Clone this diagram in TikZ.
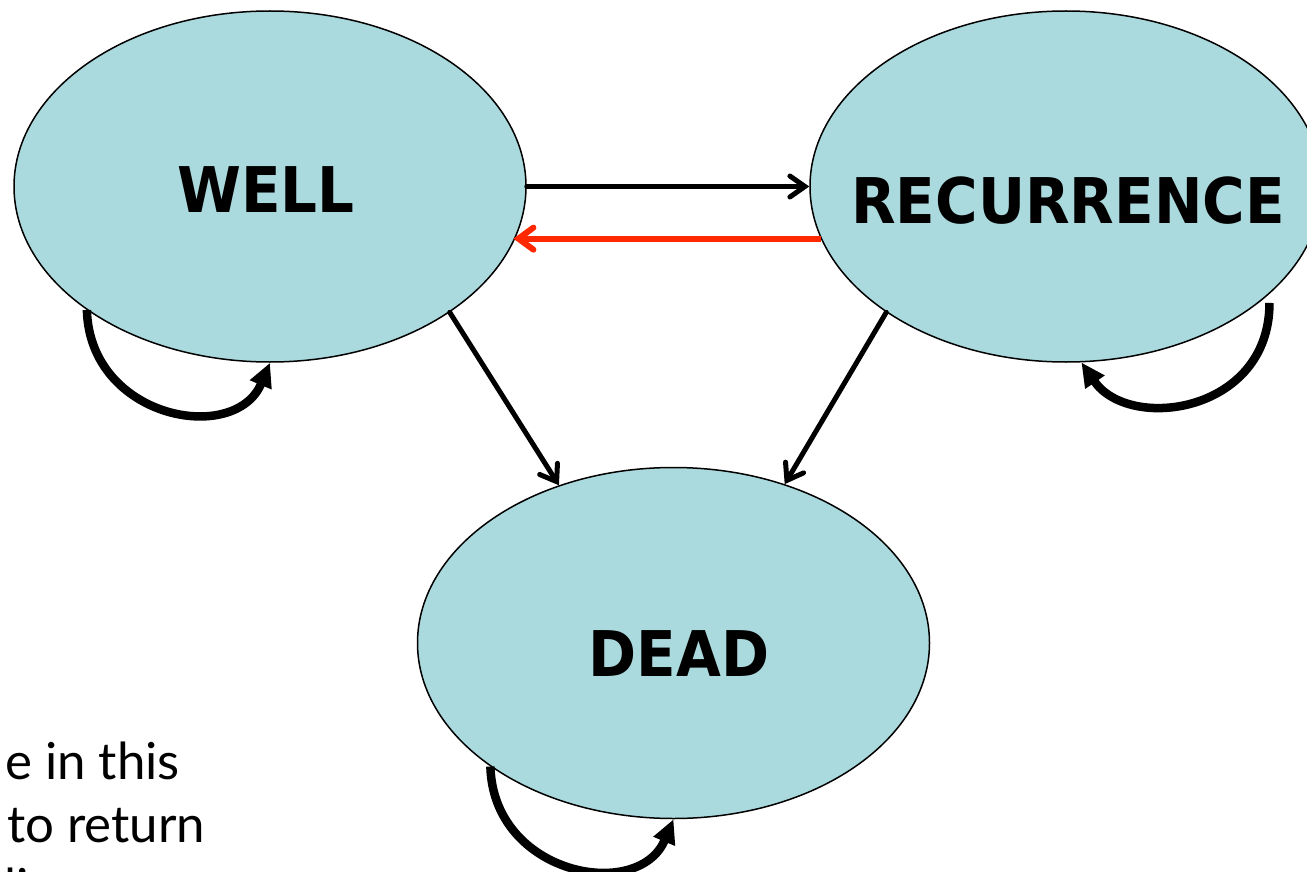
\documentclass[tikz,border=0pt]{standalone}
\usepackage{fontspec}
\usetikzlibrary{arrows.meta,shapes.geometric,calc}
\newfontfamily\lblfont[FakeStretch=0.92]{DejaVu Sans}
\newfontfamily\bodyfont{Lato}
\definecolor{fillblue}{RGB}{171,218,222}
\definecolor{backred}{RGB}{255,40,0}
\begin{document}
\begin{tikzpicture}[x=1pt,y=-1pt,
  state/.style={ellipse, draw=black, line width=1.5pt, fill=fillblue,
    minimum width=512pt, minimum height=351pt, inner sep=0pt},
  lbl/.style={font=\lblfont\bfseries\fontsize{63}{70}\selectfont, anchor=base, inner sep=0pt},
  body/.style={font=\bodyfont\fontsize{51}{63}\selectfont, anchor=base west, inner sep=0pt},
  flow/.style={line width=5pt, line cap=round,
    -{Straight Barb[length=15pt,width=21pt,line cap=round]}},
  backflow/.style={draw=backred, line width=6pt,
    -{Straight Barb[length=15pt,width=22pt,line cap=round]}},
  selfloop/.style={line width=8.5pt, -{Triangle[length=24pt,width=22pt]}}
]
\useasboundingbox (0,0) rectangle (1307,872);

\node[state] (well) at (270,186.5) {};
\node[state] (rec) at (1066,186.5) {};
\node[state] (dead) at (673.5,643) {};

\node[lbl] (wellt) at (266,212) {WELL};
\node[lbl] (rect) at (1068,223) {RECURRENCE};
\node[lbl] (deadt) at (679,676) {DEAD};

\coordinate (recloop) at ($(rec.330)+(7,3)$);

\draw[flow] (well.east) -- (rec.west);
\draw[backflow] (rec.192.4) -- (well.347.6 |- rec.192.4);
\draw[flow] (well.325.4) -- (dead.126.1);
\draw[flow] (rec.215.1) -- (dead.55.8);

\draw[selfloop] (well.214.5) .. controls +(3,109) and +(-35,83) .. (well.south);
\draw[selfloop] (dead.214.5) .. controls +(3,109) and +(-35,83) .. (dead.south);
\draw[selfloop] (recloop) .. controls +(0,110) and +(48,70) .. (rec.275);

\begin{scope}
\clip (0,0) rectangle (1307,872);
\node[body] (t1) at (5,779) {e in this};
\node[body] (t2) at (7,842) {to return};
\node[body] (t3) at (4,905) {li};
\end{scope}
\end{tikzpicture}
\end{document}
